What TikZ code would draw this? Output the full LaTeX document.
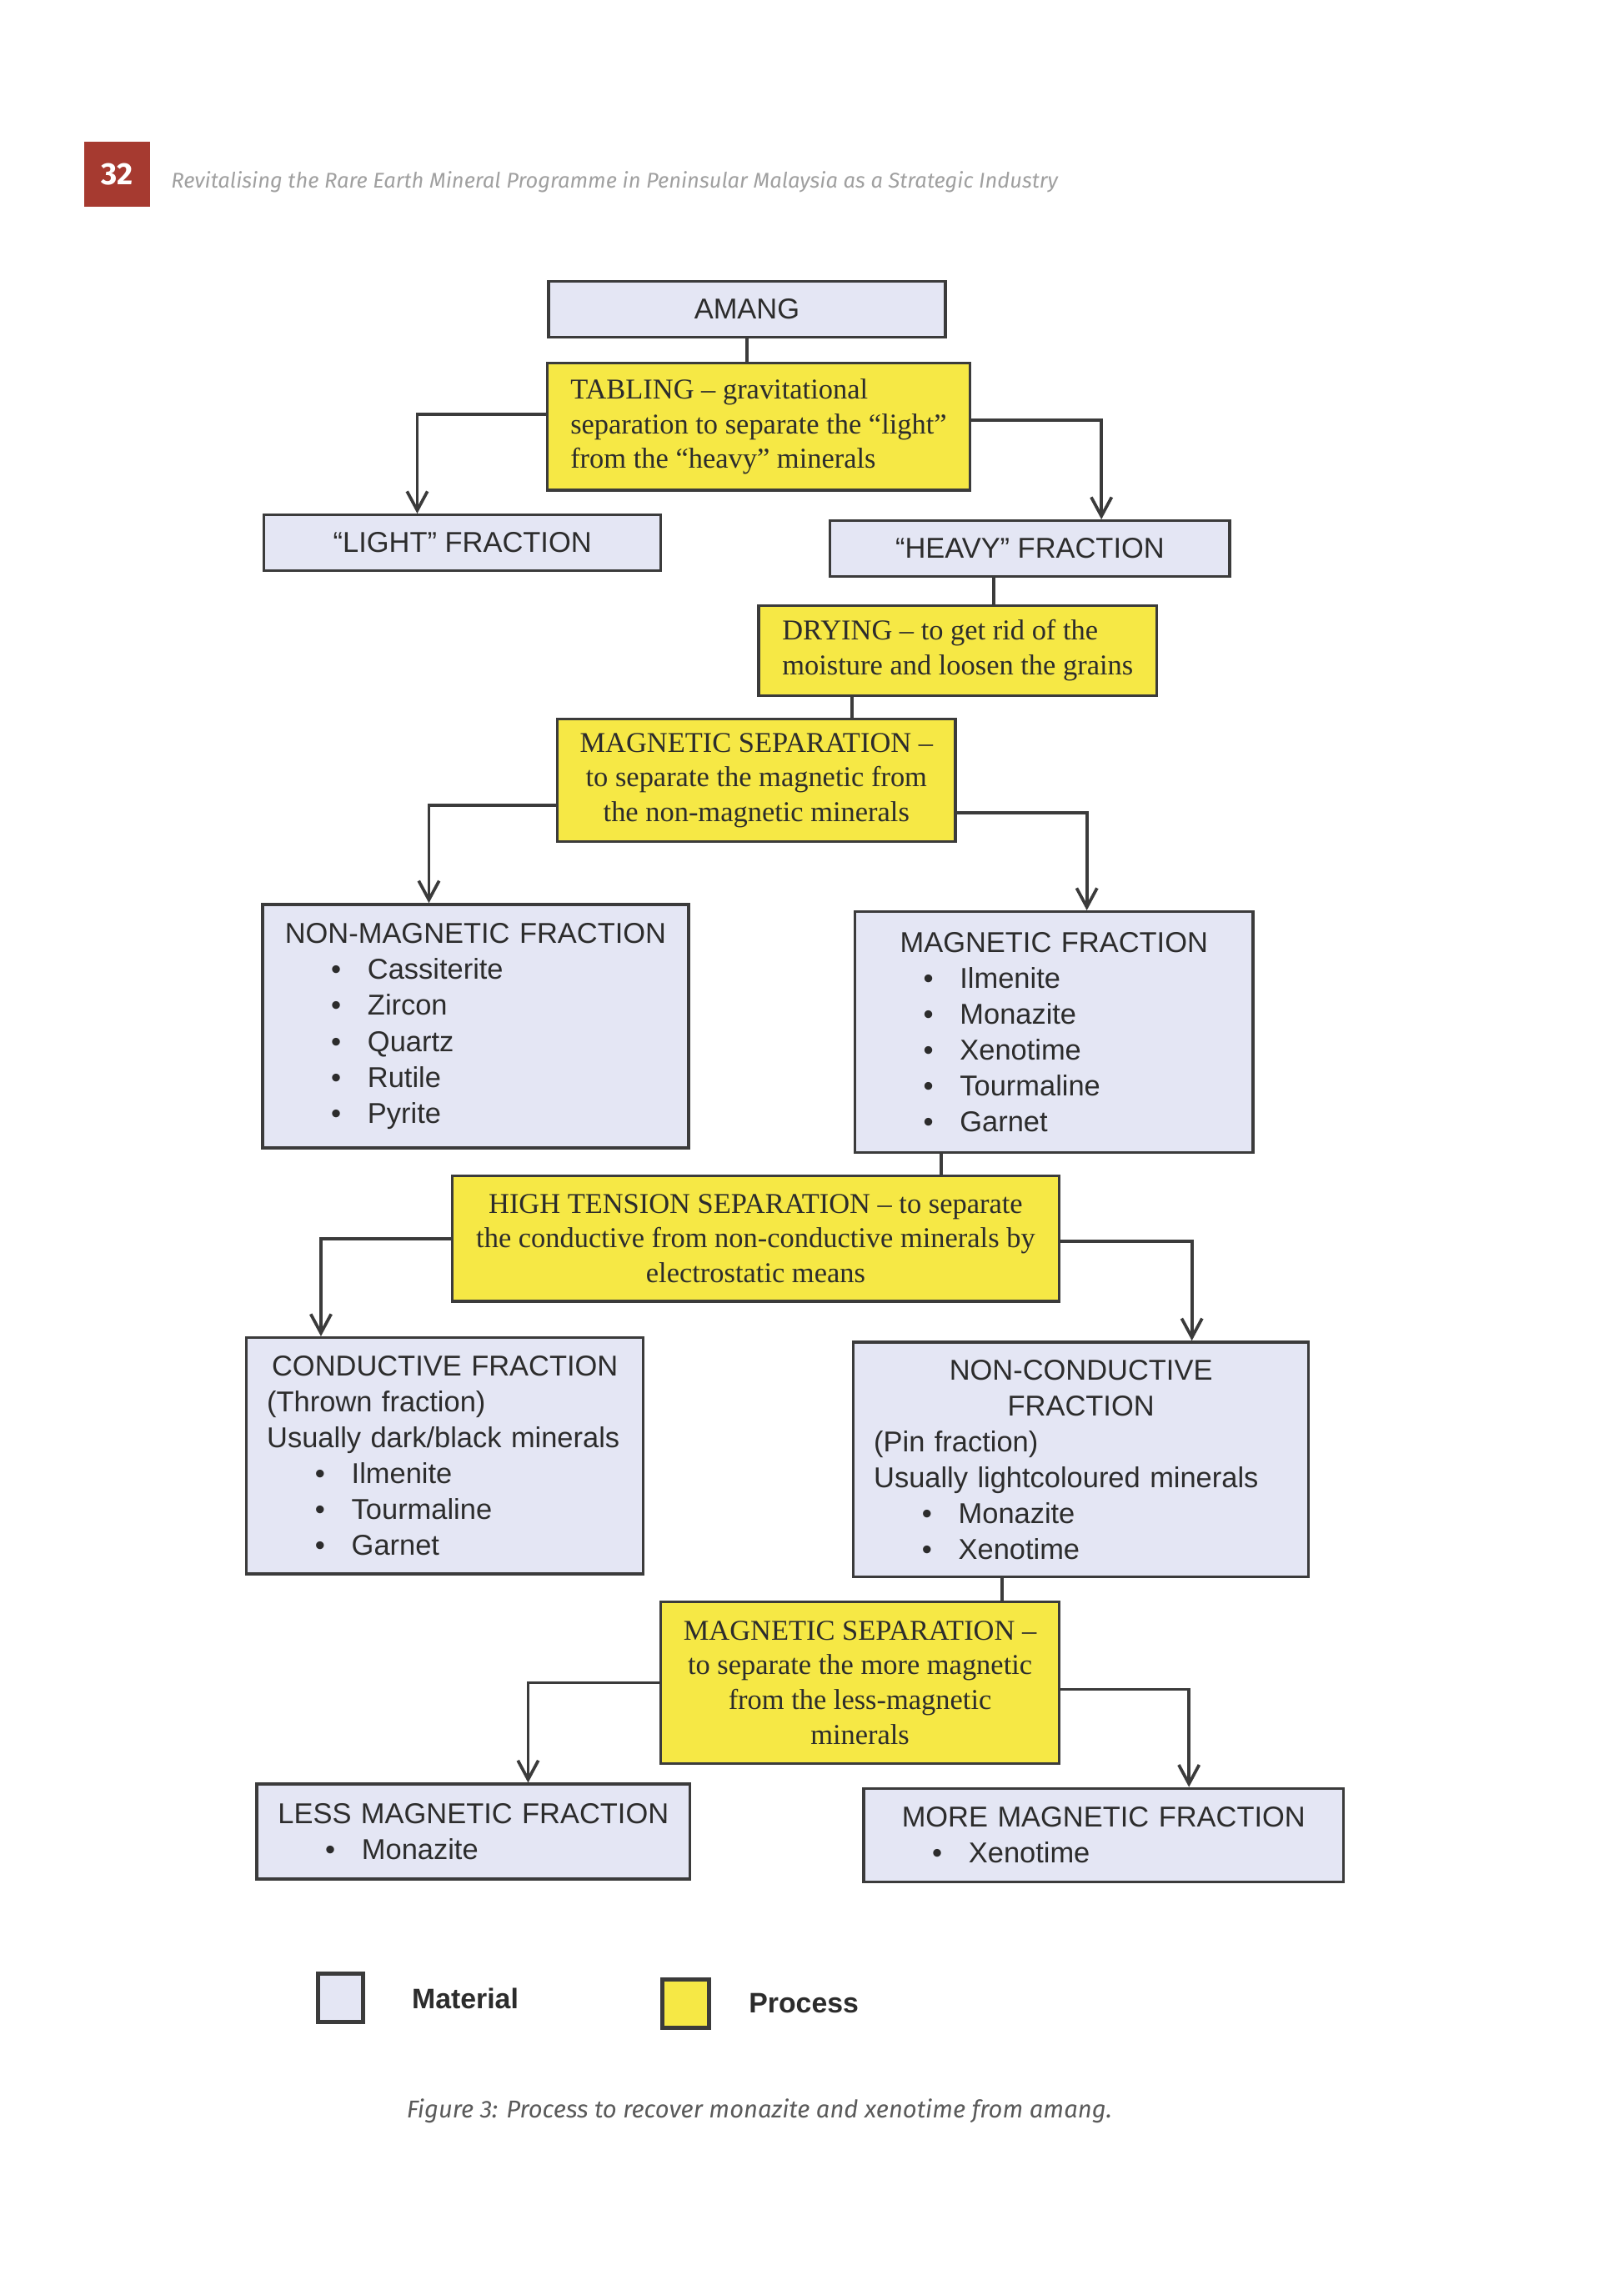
\documentclass[tikz,border=0pt]{standalone}
\usepackage{fontspec}
\setmainfont{Liberation Serif}
\newfontfamily\matfont{Liberation Sans}
\newfontfamily\capfont{Fira Sans}
\usepackage{xcolor}
\usetikzlibrary{arrows.meta}
\definecolor{matfill}{HTML}{E4E6F4}
\definecolor{procfill}{HTML}{F6E845}
\definecolor{edge}{HTML}{3B3B3B}
\definecolor{ink}{HTML}{2C2C2C}
\definecolor{pagered}{HTML}{A63A30}
\definecolor{hdrgray}{HTML}{A0A0A0}
\definecolor{capgray}{HTML}{5A5A5A}
\newcommand{\mineral}[1]{\hspace*{0.66cm}\makebox[0.5cm][l]{\textbullet}#1}

\begin{document}
\begin{tikzpicture}[
    material/.style={draw=edge, line width=1.1pt, fill=matfill, text=ink, inner xsep=0.28cm, inner ysep=0pt,
      font=\matfont\fontsize{11.2}{14}\selectfont, align=left},
    process/.style={draw=edge, line width=1.1pt, fill=procfill, text=ink, inner sep=0pt,
      font=\fontsize{11.2}{13.6}\selectfont},
    link/.style={draw=edge, line width=1.2pt},
    arr/.style={link, -{Straight Barb[length=2.6mm,width=2.8mm]}},
  ]
    \path[fill=white] (0,0) rectangle (22.264,-31.328);
    \useasboundingbox (0,0) rectangle (22.264,-31.328);

    % running head
    \node[fill=pagered, minimum width=0.9cm, minimum height=0.9cm, inner sep=0, text=white,
      font=\capfont\bfseries\fontsize{12}{12}\selectfont] (pagebox) at (1.61,-2.39) {32};
    \node[anchor=west, inner sep=0, text=hdrgray, font=\capfont\itshape\fontsize{8.3}{10}\selectfont]
      (runhead) at (2.34,-2.50) {Revitalising the Rare Earth Mineral Programme in Peninsular Malaysia as a Strategic Industry};

    % boxes
    \node[material, minimum width=5.44cm, minimum height=0.76cm] (amang) at (10.24,-4.24) {AMANG};
    \node[process, minimum width=5.80cm, minimum height=1.74cm, align=left] (tabling) at (10.40,-5.85)
      {TABLING -- gravitational\\separation to separate the “light”\\from the “heavy” minerals};
    \node[material, minimum width=5.44cm, minimum height=0.76cm] (light) at (6.34,-7.44) {“LIGHT” FRACTION};
    \node[material, minimum width=5.48cm, minimum height=0.76cm] (heavy) at (14.12,-7.52) {“HEAVY” FRACTION};
    \node[process, minimum width=5.46cm, minimum height=1.24cm, align=left] (drying) at (13.13,-8.92)
      {DRYING -- to get rid of the\\moisture and loosen the grains};
    \node[process, minimum width=5.46cm, minimum height=1.68cm, align=center] (mag1) at (10.37,-10.70)
      {MAGNETIC SEPARATION --\\to separate the magnetic from\\the non-magnetic minerals};
    \node[material, minimum width=5.84cm, minimum height=3.34cm, text width=5.28cm] (nonmag) at (6.52,-14.07)
      {\makebox[\linewidth]{NON-MAGNETIC FRACTION}\\\mineral{Cassiterite}\\\mineral{Zircon}\\
       \mineral{Quartz}\\\mineral{Rutile}\\\mineral{Pyrite}};
    \node[material, minimum width=5.46cm, minimum height=3.30cm, text width=4.90cm] (magfrac) at (14.45,-14.15)
      {\makebox[\linewidth]{MAGNETIC FRACTION}\\\mineral{Ilmenite}\\\mineral{Monazite}\\
       \mineral{Xenotime}\\\mineral{Tourmaline}\\\mineral{Garnet}};
    \node[process, minimum width=8.32cm, minimum height=1.72cm, align=center] (hts) at (10.36,-16.98)
      {HIGH TENSION SEPARATION -- to separate\\the conductive from non-conductive minerals by\\electrostatic means};
    \node[material, minimum width=5.44cm, minimum height=3.24cm, text width=4.88cm] (cond) at (6.10,-19.96)
      {\makebox[\linewidth]{CONDUCTIVE FRACTION}\\(Thrown fraction)\\\mbox{Usually dark/black minerals}\\
       \mineral{Ilmenite}\\\mineral{Tourmaline}\\\mineral{Garnet}};
    \node[material, minimum width=6.24cm, minimum height=3.22cm, text width=5.68cm] (noncond) at (14.82,-20.01)
      {\makebox[\linewidth]{NON-CONDUCTIVE}\\\makebox[\linewidth]{FRACTION}\\(Pin fraction)\\
       \mbox{Usually lightcoloured minerals}\\\mineral{Monazite}\\\mineral{Xenotime}};
    \node[process, minimum width=5.46cm, minimum height=2.22cm, align=center] (mag2) at (11.79,-23.07)
      {MAGNETIC SEPARATION --\\to separate the more magnetic\\from the less-magnetic\\minerals};
    \node[material, minimum width=5.94cm, minimum height=1.30cm, text width=5.38cm] (less) at (6.49,-25.11)
      {\makebox[\linewidth]{LESS MAGNETIC FRACTION}\\\mineral{Monazite}};
    \node[material, minimum width=6.58cm, minimum height=1.28cm, text width=6.02cm] (more) at (15.13,-25.16)
      {\makebox[\linewidth]{MORE MAGNETIC FRACTION}\\\mineral{Xenotime}};

    % connectors
    \draw[link] (amang.south) -- (amang.south |- tabling.north);
    \draw[arr] ([yshift=0.17cm]tabling.west) -| ([xshift=-0.62cm]light.north);
    \draw[arr] ([yshift=0.09cm]tabling.east) -| ([xshift=0.98cm]heavy.north);
    \draw[link] ([xshift=-0.5cm]heavy.south) -- ([xshift=-0.5cm]heavy.south |- drying.north);
    \draw[link] ([xshift=-1.45cm]drying.south) -- ([xshift=-1.45cm]drying.south |- mag1.north);
    \draw[arr] ([yshift=-0.34cm]mag1.west) -| ([xshift=-0.64cm]nonmag.north);
    \draw[arr] ([yshift=-0.44cm]mag1.east) -| ([xshift=0.45cm]magfrac.north);
    \draw[link] ([xshift=-1.55cm]magfrac.south) -- ([xshift=-1.55cm]magfrac.south |- hts.north);
    \draw[arr] (hts.west) -| ([xshift=-1.7cm]cond.north);
    \draw[arr] ([yshift=-0.04cm]hts.east) -| ([xshift=1.52cm]noncond.north);
    \draw[link] ([xshift=-1.08cm]noncond.south) -- ([xshift=-1.08cm]noncond.south |- mag2.north);
    \draw[arr] (mag2.west) -| ([xshift=0.75cm]less.north);
    \draw[arr] ([yshift=-0.09cm]mag2.east) -| ([xshift=1.17cm]more.north);

    % legend
    \node[material, minimum width=0.62cm, minimum height=0.66cm, line width=1.6pt] (matkey) at (4.67,-27.39) {};
    \node[anchor=west, inner sep=0, text=ink, font=\matfont\bfseries\fontsize{11}{13}\selectfont]
      (matlabel) at (5.64,-27.40) {Material};
    \node[process, minimum width=0.64cm, minimum height=0.66cm, line width=1.6pt] (prockey) at (9.40,-27.47) {};
    \node[anchor=west, inner sep=0, text=ink, font=\matfont\bfseries\fontsize{11}{13}\selectfont]
      (proclabel) at (10.26,-27.46) {Process};

    % caption
    \node[text=capgray, font=\capfont\itshape\fontsize{9.5}{11}\selectfont] (caption) at (10.41,-28.94)
      {Figure 3: Process to recover monazite and xenotime from amang.};
\end{tikzpicture}
\end{document}
